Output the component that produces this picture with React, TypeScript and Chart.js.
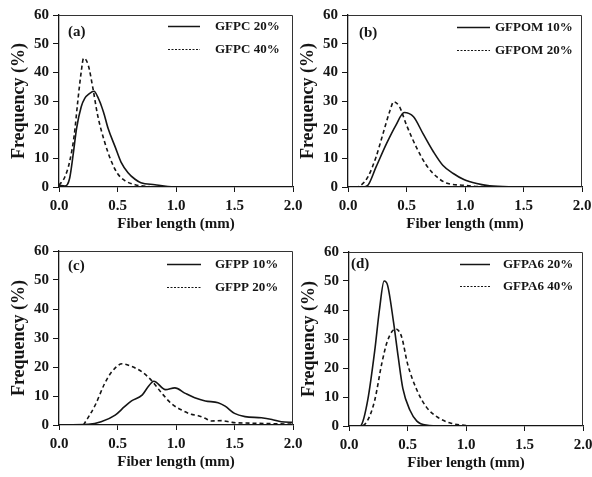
import React, { useEffect, useRef } from "react";
import { Chart, registerables } from "chart.js";

Chart.register(...registerables);

const FONT = "'Liberation Serif', 'Times New Roman', Times, serif";
const INK = "#151515";

// ---- axis ticks ----
const xTickValues = [0, 0.5, 1.0, 1.5, 2.0];
const yTickValues = [0, 10, 20, 30, 40, 50, 60];
const xAxisTitle = "Fiber length (mm)";
const yAxisTitle = "Frequency (%)";

// ---- (a) GFPC ----
const pcNames = ["GFPC 20%", "GFPC 40%"];
const pc20X = [0, 0.05, 0.09, 0.12, 0.15, 0.19, 0.22, 0.26, 0.3, 0.33, 0.38, 0.42, 0.48, 0.53, 0.59, 0.65, 0.7, 0.82, 0.93, 1.05, 1.5, 2.0];
const pc20Y = [0.6, 0.3, 2.9, 11, 20.4, 28, 30.9, 32.6, 33.4, 31.5, 26.2, 20.4, 14, 8.7, 5, 2.7, 1.5, 0.8, 0.2, 0, 0, 0];
const pc40X = [0, 0.05, 0.09, 0.13, 0.16, 0.19, 0.21, 0.25, 0.29, 0.33, 0.39, 0.45, 0.5, 0.56, 0.65, 0.76, 0.9, 1.5, 2.0];
const pc40Y = [0.6, 3.5, 8.7, 18, 29.7, 40.2, 44.9, 42.5, 34.4, 25.1, 15.7, 8.7, 4.7, 2.3, 0.8, 0.2, 0, 0, 0];

// ---- (b) GFPOM ----
const pomNames = ["GFPOM 10%", "GFPOM 20%"];
const pom10X = [0, 0.13, 0.17, 0.24, 0.33, 0.41, 0.48, 0.56, 0.64, 0.73, 0.81, 0.9, 0.99, 1.1, 1.21, 1.39, 2.0];
const pom10Y = [0, 0, 0.6, 7, 15.2, 21.6, 26, 24.5, 18.7, 12.3, 7.6, 4.7, 2.6, 1.2, 0.4, 0.1, 0];
const pom20X = [0, 0.07, 0.11, 0.17, 0.24, 0.3, 0.36, 0.39, 0.44, 0.5, 0.59, 0.67, 0.76, 0.84, 0.99, 1.16, 2.0];
const pom20Y = [0, 0, 0.6, 3.5, 10.5, 18.7, 26.8, 29.7, 28, 21.6, 13.4, 7.6, 3.5, 1.4, 0.6, 0.1, 0];

// ---- (c) GFPP ----
const ppNames = ["GFPP 10%", "GFPP 20%"];
const pp10X = [0, 0.25, 0.36, 0.48, 0.56, 0.62, 0.71, 0.76, 0.81, 0.91, 0.99, 1.08, 1.16, 1.25, 1.36, 1.42, 1.5, 1.59, 1.73, 1.82, 1.9, 2.0];
const pp10Y = [0, 0.2, 1.1, 3.4, 6.3, 8.3, 10.3, 13.1, 15.1, 12.2, 12.8, 10.9, 9.4, 8.3, 7.7, 6.5, 4.0, 2.9, 2.5, 1.9, 1.1, 0.9];
const pp20X = [0.21, 0.31, 0.39, 0.45, 0.54, 0.62, 0.71, 0.79, 0.88, 0.96, 1.05, 1.13, 1.19, 1.25, 1.3, 1.39, 1.48, 1.68, 2.0];
const pp20Y = [0, 6.9, 14.3, 18.3, 21.1, 20.2, 18.3, 15.4, 10.9, 7.4, 5.1, 3.7, 3.2, 2.3, 1.4, 1.5, 0.9, 0.6, 0.3];

// ---- (d) GFPA6 ----
const pa6Names = ["GFPA6 20%", "GFPA6 40%"];
const pa620X = [0, 0.09, 0.105, 0.16, 0.22, 0.26, 0.3, 0.33, 0.38, 0.42, 0.46, 0.52, 0.58, 0.66, 0.8, 2.0];
const pa620Y = [0, 0, 0.3, 8.9, 26, 40, 50, 48.5, 36, 24, 13, 5.5, 1.7, 0.3, 0, 0];
const pa640X = [0, 0.105, 0.16, 0.22, 0.28, 0.33, 0.4, 0.45, 0.5, 0.58, 0.66, 0.75, 0.86, 0.97, 1.12, 2.0];
const pa640Y = [0, 0, 2, 8.9, 21.5, 29.5, 33.5, 30.7, 21.5, 12.4, 6.6, 3.2, 1.1, 0.3, 0, 0];

type Area = { l: number; t: number; r: number; b: number };
type PanelDef = {
  tag: string;
  names: string[];
  solid: [number[], number[]];
  dashed: [number[], number[]];
  area: Area;
  tagPos: [number, number];
  legLine: [number, number];
  legRows: [number, number];
  legText: number;
};

const panels: PanelDef[] = [
  { tag: "(a)", names: pcNames, solid: [pc20X, pc20Y], dashed: [pc40X, pc40Y],
    area: { l: 59, t: 15, r: 293, b: 187 }, tagPos: [9, 17], legLine: [109, 141], legRows: [11, 34], legText: 156 },
  { tag: "(b)", names: pomNames, solid: [pom10X, pom10Y], dashed: [pom20X, pom20Y],
    area: { l: 348, t: 15, r: 582, b: 187 }, tagPos: [11, 18], legLine: [109, 142], legRows: [12, 35], legText: 147 },
  { tag: "(c)", names: ppNames, solid: [pp10X, pp10Y], dashed: [pp20X, pp20Y],
    area: { l: 59, t: 251, r: 293, b: 425 }, tagPos: [9, 15], legLine: [108, 142], legRows: [13, 36], legText: 156 },
  { tag: "(d)", names: pa6Names, solid: [pa620X, pa620Y], dashed: [pa640X, pa640Y],
    area: { l: 349, t: 252, r: 583, b: 426 }, tagPos: [2, 12], legLine: [111, 141], legRows: [12, 34], legText: 154 },
];

const LEFT_SPACE = 59;
const TOP_SPACE = 15;
const RIGHT_SPACE = 26;
const BOTTOM_SPACE = 56;

function toPoints(xs: number[], ys: number[]) {
  return xs.map((x, i) => ({ x, y: ys[i] }));
}

function makeOverlay(p: PanelDef) {
  return {
    id: "overlay",
    afterDatasetsDraw(chart: any) {
      const { ctx, chartArea: ca } = chart;
      ctx.save();
      // frame top & right
      ctx.strokeStyle = "#333";
      ctx.lineWidth = 1;
      ctx.beginPath();
      ctx.moveTo(ca.left, Math.round(ca.top) + 0.5);
      ctx.lineTo(Math.round(ca.right) - 0.5, Math.round(ca.top) + 0.5);
      ctx.lineTo(Math.round(ca.right) - 0.5, ca.bottom);
      ctx.stroke();
      // panel tag
      ctx.fillStyle = INK;
      ctx.font = `bold 15px ${FONT}`;
      ctx.textAlign = "left";
      ctx.textBaseline = "middle";
      ctx.fillText(p.tag, ca.left + p.tagPos[0], ca.top + p.tagPos[1]);
      // legend
      ctx.font = `bold 13px ${FONT}`;
      p.names.forEach((name, i) => {
        const y = ca.top + p.legRows[i];
        ctx.beginPath();
        ctx.strokeStyle = INK;
        if (i === 0) {
          ctx.lineWidth = 1.5;
          ctx.setLineDash([]);
        } else {
          ctx.lineWidth = 1;
          ctx.setLineDash([2, 1.5]);
        }
        ctx.moveTo(ca.left + p.legLine[0], Math.round(y) + 0.5);
        ctx.lineTo(ca.left + p.legLine[1], Math.round(y) + 0.5);
        ctx.stroke();
        ctx.setLineDash([]);
        ctx.fillText(name, ca.left + p.legText, y + 1);
      });
      ctx.restore();
    },
  };
}

function Panel({ p }: { p: PanelDef }) {
  const ref = useRef<HTMLCanvasElement | null>(null);
  const w = p.area.r - p.area.l + LEFT_SPACE + RIGHT_SPACE;
  const h = p.area.b - p.area.t + TOP_SPACE + BOTTOM_SPACE;
  useEffect(() => {
    if (!ref.current) return;
    const tickFont = { family: FONT, size: 15, weight: "bold" as const };
    const chart = new Chart(ref.current, {
      type: "line",
      data: {
        datasets: [
          {
            label: p.names[0],
            data: toPoints(p.solid[0], p.solid[1]),
            borderColor: INK,
            borderWidth: 1.6,
            pointRadius: 0,
            cubicInterpolationMode: "monotone",
            fill: false,
          },
          {
            label: p.names[1],
            data: toPoints(p.dashed[0], p.dashed[1]),
            borderColor: INK,
            borderWidth: 1.6,
            borderDash: [4, 3],
            pointRadius: 0,
            cubicInterpolationMode: "monotone",
            fill: false,
          },
        ],
      },
      options: {
        animation: false,
        responsive: false,
        maintainAspectRatio: false,
        devicePixelRatio: 1,
        layout: { padding: { left: 0, top: TOP_SPACE, right: RIGHT_SPACE, bottom: 0 } },
        plugins: { legend: { display: false }, tooltip: { enabled: false } },
        scales: {
          x: {
            type: "linear",
            min: 0,
            max: 2,
            afterBuildTicks: (s: any) => {
              s.ticks = xTickValues.map((v) => ({ value: v }));
            },
            afterFit: (s: any) => {
              s.height = BOTTOM_SPACE;
            },
            ticks: {
              font: tickFont,
              color: INK,
              padding: 5,
              maxRotation: 0,
              autoSkip: false,
              callback: (v: any) => Number(v).toFixed(1),
            },
            grid: { display: true, drawOnChartArea: false, drawTicks: true, tickLength: 5, color: INK },
            border: { display: true, color: INK, width: 1.3 },
            title: {
              display: true,
              text: xAxisTitle,
              font: { family: FONT, size: 15, weight: "bold", lineHeight: 1.2 },
              color: INK,
              padding: { top: 0, bottom: 10 },
            },
          },
          y: {
            type: "linear",
            min: 0,
            max: 60,
            afterBuildTicks: (s: any) => {
              s.ticks = yTickValues.map((v) => ({ value: v }));
            },
            afterFit: (s: any) => {
              s.width = LEFT_SPACE;
            },
            ticks: { font: tickFont, color: INK, padding: 4, autoSkip: false },
            grid: { display: true, drawOnChartArea: false, drawTicks: true, tickLength: 6, color: INK },
            border: { display: true, color: INK, width: 1.3 },
            title: {
              display: true,
              text: yAxisTitle,
              font: { family: FONT, size: 18, weight: "bold", lineHeight: 1.2 },
              color: INK,
              padding: { top: 9, bottom: 0 },
            },
          },
        },
      },
      plugins: [makeOverlay(p)],
    });
    return () => chart.destroy();
  }, [p]);
  return (
    <canvas
      ref={ref}
      width={w}
      height={h}
      style={{
        position: "absolute",
        left: p.area.l - LEFT_SPACE,
        top: p.area.t - TOP_SPACE,
        width: w,
        height: h,
      }}
    />
  );
}

export default function App() {
  return (
    <div
      style={{
        position: "absolute",
        left: 0,
        top: 0,
        width: 592,
        height: 477,
        background: "#fff",
        overflow: "hidden",
      }}
    >
      {panels.map((p) => (
        <Panel key={p.tag} p={p} />
      ))}
    </div>
  );
}
